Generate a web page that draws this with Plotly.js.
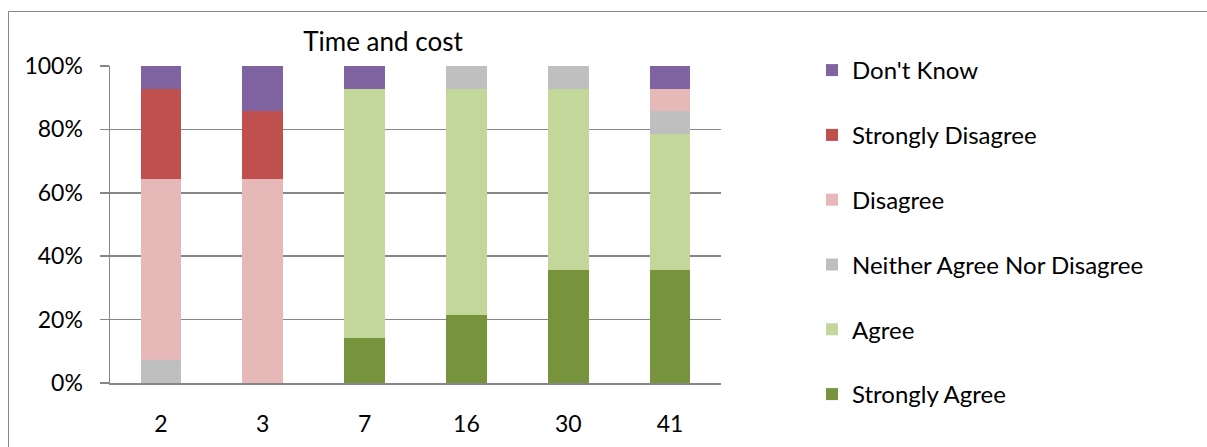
<!DOCTYPE html>
<html>
<head>
<meta charset="utf-8">
<script src="https://cdn.plot.ly/plotly-3.0.1.min.js"></script>
<style>
  html, body { margin: 0; padding: 0; background: #fff; }
  #chart { width: 1207px; height: 447px; }
</style>
</head>
<body>
<div id="chart"></div>
<script>
// Survey responses per question number (counts of 14 respondents, shown as 100% stacked)
const categories = ['2', '3', '7', '16', '30', '41'];
const stronglyAgree    = [0, 0, 2, 3, 5, 5];
const agree            = [0, 0, 11, 10, 8, 6];
const neither          = [1, 0, 0, 1, 1, 1];
const disagree         = [8, 9, 0, 0, 0, 1];
const stronglyDisagree = [4, 3, 0, 0, 0, 0];
const dontKnow         = [1, 2, 1, 0, 0, 1];
const seriesNames  = ['Strongly Agree', 'Agree', 'Neither Agree Nor Disagree', 'Disagree', 'Strongly Disagree', "Don't Know"];
const seriesColors = ['#77933C', '#C4D79B', '#BFBFBF', '#E6B9B8', '#C0504D', '#8064A2'];
const yTicks = [0, 20, 40, 60, 80, 100];

const seriesValues = [stronglyAgree, agree, neither, disagree, stronglyDisagree, dontKnow];
const FONT = 'Lato, "Open Sans", sans-serif';

// First series sits at the bottom of each stack; the legend lists them top-down in reverse
const traces = seriesValues.map((vals, i) => ({
  type: 'bar',
  name: seriesNames[i],
  x: categories,
  y: vals,
  marker: { color: seriesColors[i], line: { width: 0 } },
  legendgroup: 'g' + i,
  legendrank: 100 - i,
  hovertemplate: '%{x}: %{y:.1f}%<extra>' + seriesNames[i] + '</extra>'
}));

const W = 1207, H = 447;
const L = 110, R = 721, T = 66, B = 383;

const layout = {
  width: W, height: H,
  margin: { l: L, r: W - R, t: T, b: H - B, pad: 0 },
  paper_bgcolor: '#ffffff',
  plot_bgcolor: '#ffffff',
  font: { family: FONT, size: 23, color: '#000000' },
  barmode: 'stack',
  barnorm: 'percent',
  bargap: 0.6,
  title: {
    text: 'Time and cost',
    font: { family: FONT, size: 26, color: '#000000' },
    x: 383 / W, xanchor: 'center',
    y: 1 - 42 / H, yanchor: 'middle'
  },
  xaxis: {
    type: 'category',
    showgrid: false,
    showline: true, linecolor: '#868686', linewidth: 1.5,
    ticks: '', ticklen: 0,
    ticklabelstandoff: 20,
    tickfont: { family: FONT, size: 23 },
    fixedrange: true
  },
  yaxis: {
    range: [0, 100],
    tickvals: yTicks,
    ticktext: yTicks.map(v => v + '%'),
    showgrid: true, gridcolor: '#868686', gridwidth: 1.5,
    showline: true, linecolor: '#868686', linewidth: 1.5,
    zeroline: false,
    ticks: 'outside', ticklen: 9, tickcolor: '#868686', tickwidth: 1.5,
    ticklabelstandoff: 12,
    tickfont: { family: FONT, size: 23 },
    fixedrange: true
  },
  legend: {
    x: (812 - L) / (R - L), xanchor: 'left',
    y: 1 - (70 - T - 22) / (B - T), yanchor: 'top',
    traceorder: 'grouped',
    tracegroupgap: 30.6,
    itemwidth: 30,
    maxheight: 440,
    font: { family: FONT, size: 24 },
    bgcolor: 'rgba(0,0,0,0)'
  },
  shapes: [{
    type: 'rect', xref: 'paper', yref: 'paper',
    x0: (8.5 - L) / (R - L), x1: (1215 - L) / (R - L),
    y0: (B - 460) / (B - T), y1: (B - 11.5) / (B - T),
    line: { color: '#888888', width: 1 }, fillcolor: 'rgba(0,0,0,0)', layer: 'below'
  }]
};

Plotly.newPlot('chart', traces, layout, { displayModeBar: false, staticPlot: true });
</script>
</body>
</html>
